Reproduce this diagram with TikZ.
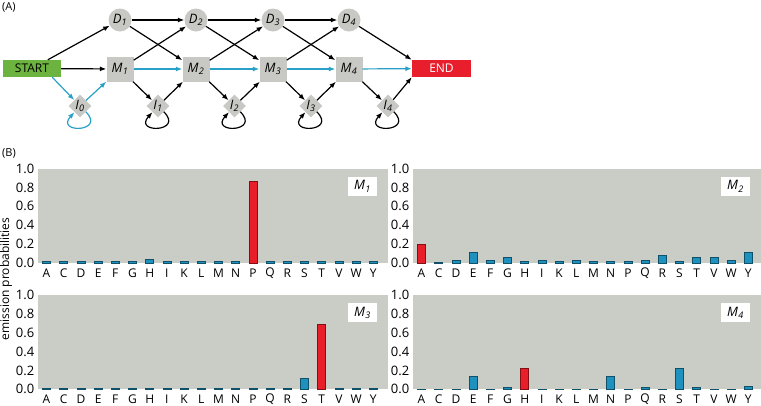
\documentclass[tikz,border=0pt]{standalone}
\usepackage{fontspec}
\setmainfont{Open Sans}
\usetikzlibrary{arrows.meta,shapes.geometric,calc}
\definecolor{startgreen}{RGB}{108,179,63}
\definecolor{endred}{RGB}{232,30,45}
\definecolor{nodegray}{RGB}{200,201,196}
\definecolor{plotbg}{RGB}{201,205,198}
\definecolor{linkblue}{RGB}{41,160,200}
\definecolor{barb}{RGB}{30,145,190}
\definecolor{barr}{RGB}{232,30,40}
\newcommand\st[2]{{\itshape #1\kern0.3pt\textsubscript{#2}}}
% #1 x0, #2 base (y of 0.0), #3 width, #4 legend, #5 values, #6 id
\newcommand\emchart[6]{%
  \fill[plotbg] (#1,#2) rectangle ({#1+#3},{#2+94.5});
  \foreach \t [count=\n] in {0.0,0.2,0.4,0.6,0.8,1.0}
    \node[ticklab] (c#6t\n) at ({#1-3.5},{#2+94.5*\t}) {\t};
  \foreach \v/\c [count=\k from 0] in {#5}
    \filldraw[fill=bar\c, draw=bar\c!55!black, line width=0.6pt]
      ({#1+4.5+17.2*\k},#2) rectangle ({#1+12.5+17.2*\k},{#2+94.5*\v});
  \foreach \l [count=\k from 0] in {A,C,D,E,F,G,H,I,K,L,M,N,P,Q,R,S,T,V,W,Y}
    \node[letlab] (c#6l\k) at ({#1+8.5+17.2*\k},{#2-10}) {\l};
  \node[legbox] (c#6leg) at ({#1+#3-25.5},{#2+94.5-18}) {#4};
}
\begin{document}
\begin{tikzpicture}[x=1pt,y=1pt,
  lab/.style={font=\fontsize{12}{14}\selectfont},
  nlab/.style={font=\fontsize{13}{15}\selectfont},
  ticklab/.style={font=\fontsize{13}{15}\selectfont,anchor=east,inner sep=0pt},
  letlab/.style={lab,inner sep=0pt},
  legbox/.style={nlab,fill=white,minimum width=29pt,minimum height=19pt,inner sep=0pt},
  startbox/.style={lab,rectangle,fill=startgreen,minimum width=58pt,minimum height=17pt,inner sep=0pt},
  endbox/.style={lab,rectangle,fill=endred,text=white,minimum width=59pt,minimum height=17pt,inner sep=0pt},
  mbox/.style={nlab,rectangle,fill=nodegray,minimum width=27pt,minimum height=25pt,inner sep=0pt},
  dcirc/.style={nlab,circle,fill=nodegray,minimum size=23pt,inner sep=0pt},
  idiam/.style={nlab,diamond,fill=nodegray,minimum width=23pt,minimum height=23pt,inner sep=0pt},
  arr/.style={line width=1.2pt,-{Latex[length=6.5pt,width=5pt]}},
  barr/.style={arr,draw=linkblue},
  selfloop/.style={arr,out=-45,in=-132,looseness=6.5}
]
\useasboundingbox (0,0) rectangle (761,-405);
\node[lab,anchor=west,inner sep=0pt,font=\fontsize{11}{13}\selectfont] (labA) at (2,-7) {(A)};
\node[lab,anchor=west,inner sep=0pt,font=\fontsize{11}{13}\selectfont] (labB) at (2,-153) {(B)};
% nodes
\node[startbox] (START) at (32,-68.5) {START};
\node[endbox] (END) at (441.5,-68.5) {END};
\foreach \i/\x in {1/120,2/196,3/273,4/349}{
  \node[mbox] (M\i) at (\x,-69) {\st M\i};
  \node[dcirc] (D\i) at (\x,-20) {\st D\i};
}
\foreach \i/\x in {0/80,1/158,2/234.5,3/311,4/388}
  \node[idiam] (I\i) at (\x,-106) {\st I\i};
% edges
\draw[arr] (START) -- (D1);
\draw[arr] (START) -- (M1);
\draw[barr] ($(START.south east)+(-9,0)$) -- (I0);
\draw[barr] (I0) -- (M1);
\draw[barr] (I0) to[selfloop] (I0);
\foreach \i [evaluate=\i as \j using int(\i+1)] in {1,2,3}{
  \draw[barr] (M\i) -- (M\j);
  \draw[arr] (D\i) -- (D\j);
  \draw[arr] (D\i) -- (M\j);
  \draw[arr] (M\i) -- (D\j);
  \draw[arr] (M\i) -- (I\i);
  \draw[arr] (I\i) -- (M\j);
}
\foreach \i in {1,2,3,4}
  \draw[arr] (I\i) to[selfloop] (I\i);
\draw[barr] (M4) -- (END);
\draw[arr] (D4) -- (END.north west);
\draw[arr] (M4) -- (I4);
\draw[arr] (I4) -- (END.south west);
% charts
\emchart{38}{-263}{350}{\st M1}{0.02/b,0.02/b,0.02/b,0.02/b,0.02/b,0.02/b,0.04/b,0.02/b,0.02/b,0.02/b,0.02/b,0.02/b,0.86/r,0.02/b,0.02/b,0.02/b,0.02/b,0.02/b,0.02/b,0.02/b}{a}
\emchart{413}{-263}{348}{\st M2}{0.20/r,0.01/b,0.03/b,0.11/b,0.03/b,0.06/b,0.02/b,0.03/b,0.02/b,0.03/b,0.02/b,0.02/b,0.02/b,0.03/b,0.08/b,0.02/b,0.065/b,0.065/b,0.03/b,0.11/b}{b}
\emchart{38}{-389.3}{350}{\st M3}{0.015/b,0.007/b,0.007/b,0.007/b,0.007/b,0.007/b,0.007/b,0.015/b,0.007/b,0.007/b,0.007/b,0.007/b,0.007/b,0.007/b,0.007/b,0.12/b,0.69/r,0.007/b,0.007/b,0.007/b}{c}
\emchart{413}{-389.3}{348}{\st M4}{0.005/b,0.005/b,0.005/b,0.14/b,0.005/b,0.02/b,0.22/r,0.005/b,0.005/b,0.005/b,0.005/b,0.14/b,0.005/b,0.02/b,0.005/b,0.22/b,0.02/b,0.005/b,0.005/b,0.035/b}{d}
\node[lab,rotate=90,inner sep=0pt] (ylab) at (6,-279) {emission probabilities};
\end{tikzpicture}
\end{document}
